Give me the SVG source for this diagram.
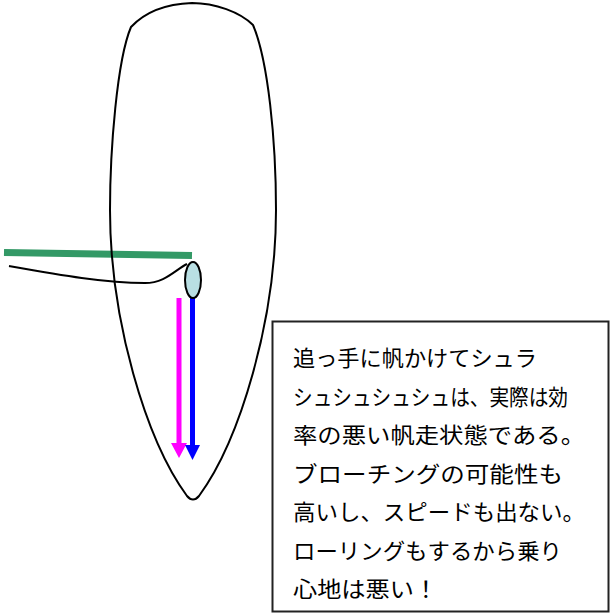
<svg xmlns="http://www.w3.org/2000/svg" width="610" height="615" viewBox="0 0 610 615">
  <style>
    .outline { fill: none; stroke: #000; stroke-width: 2; stroke-linejoin: round; }
    .boom { stroke: #339966; stroke-width: 7; stroke-linecap: butt; }
    .note-box { fill: #fff; stroke: #222; stroke-width: 2; }
    .note { font-family: "Noto Sans CJK JP", sans-serif; font-size: 22px; fill: #000; }
  </style>
  <rect width="610" height="615" fill="#fff"/>

  <!-- boom -->
  <g id="boom">
    <line class="boom" x1="4" y1="252.5" x2="192" y2="255.5"/>
  </g>

  <!-- hull seen from above -->
  <g id="hull">
    <path class="outline" d="M192,3 C165,4 145,12 131,27 C117,60 110,150 110,210 C110,320 146,440 187,496 Q193,503 199,496 C240,440 276,320 276,210 C276,140 268,60 253,25 C240,12 215,3 192,3 Z"/>
  </g>

  <!-- sheet -->
  <g id="sheet">
    <path class="outline" d="M9,266 C60,275 105,283 145,283 C165,283 175,270 187,264"/>
  </g>

  <!-- force arrows -->
  <g id="connectors">
    <line x1="179" y1="298" x2="179" y2="445" stroke="#ff00ff" stroke-width="5"/>
    <polygon points="171,443 187,443 179,458" fill="#ff00ff"/>
    <line x1="192.5" y1="296" x2="192.5" y2="447" stroke="#0000ff" stroke-width="5"/>
    <polygon points="185,445 200,445 192.5,460" fill="#0000ff"/>
  </g>

  <!-- mast / sail foot -->
  <g id="mast">
    <ellipse cx="193" cy="280" rx="8" ry="18" fill="#b9dfe3" stroke="#000" stroke-width="2"/>
  </g>

  <!-- explanation -->
  <g id="note">
    <rect class="note-box" x="272.5" y="321.5" width="336" height="290"/>
    <text class="note" x="293" y="366" textLength="244" lengthAdjust="spacingAndGlyphs">追っ手に帆かけてシュラ</text>
    <text class="note" x="293" y="404.5" textLength="275" lengthAdjust="spacingAndGlyphs">シュシュシュシュは、実際は効</text>
    <text class="note" x="293" y="443" textLength="292" lengthAdjust="spacingAndGlyphs">率の悪い帆走状態である。</text>
    <text class="note" x="293" y="481.5" textLength="270" lengthAdjust="spacingAndGlyphs">ブローチングの可能性も</text>
    <text class="note" x="293" y="520" textLength="292" lengthAdjust="spacingAndGlyphs">高いし、スピードも出ない。</text>
    <text class="note" x="293" y="558.5" textLength="269" lengthAdjust="spacingAndGlyphs">ローリングもするから乗り</text>
    <text class="note" x="293" y="597" textLength="145" lengthAdjust="spacingAndGlyphs">心地は悪い！</text>
  </g>
</svg>
